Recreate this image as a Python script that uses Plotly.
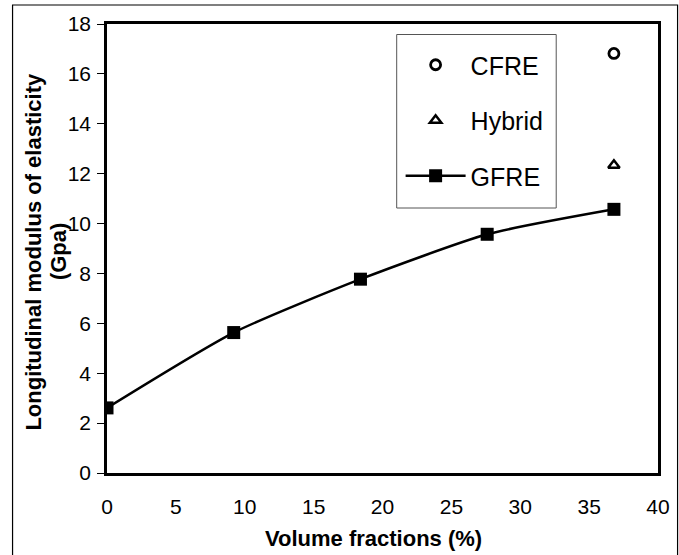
import plotly.graph_objects as go

volume = [0, 9.2, 18.4, 27.6, 36.8]
gfre = [2.61, 5.63, 7.77, 9.57, 10.57]
cfre_x = [36.8]
cfre_y = [16.82]
hybrid_x = [36.8]
hybrid_y = [12.34]

FONT = "Arial, Liberation Sans, sans-serif"

fig = go.Figure()
fig.add_trace(go.Scatter(x=cfre_x, y=cfre_y, mode="markers", name="CFRE",
                         legendgroup="a",
                         marker=dict(symbol="circle-open", size=10, color="black",
                                     line=dict(width=2.8, color="black"))))
fig.add_trace(go.Scatter(x=hybrid_x, y=hybrid_y, mode="markers", name="Hybrid",
                         legendgroup="b",
                         marker=dict(symbol="triangle-up-open", size=10, color="black",
                                     line=dict(width=2.5, color="black"))))
fig.add_trace(go.Scatter(x=volume, y=gfre, mode="lines+markers", name="GFRE",
                         legendgroup="c",
                         line=dict(color="black", width=2.5, shape="spline", smoothing=0.6),
                         marker=dict(symbol="square", size=13, color="black")))

L, R, T, B = 107, 9, 24, 82
W, H = 679, 555
pw, ph = W - L - R, H - T - B

def px(x):
    return (x - L) / pw

def py(y):
    return (H - B - y) / ph

fig.update_layout(
    width=W, height=H,
    margin=dict(l=L, r=R, t=T, b=B),
    paper_bgcolor="white", plot_bgcolor="white",
    font=dict(family=FONT, size=21, color="black"),
    showlegend=True,
    legend=dict(x=px(407), y=py(42), xanchor="left", yanchor="top",
                bgcolor="rgba(0,0,0,0)", borderwidth=0,
                font=dict(size=25, family=FONT), traceorder="grouped",
                tracegroupgap=20, itemwidth=60),
    xaxis=dict(range=[0, 40], tickvals=[0, 5, 10, 15, 20, 25, 30, 35, 40],
               showline=True, linecolor="black", linewidth=2.5, mirror=True,
               ticks="", showgrid=False, zeroline=False,
               ticklabelstandoff=13, tickfont=dict(size=21)),
    yaxis=dict(range=[0, 18], tickvals=[0, 2, 4, 6, 8, 10, 12, 14, 16, 18],
               showline=True, linecolor="black", linewidth=2.5, mirror=True,
               ticks="outside", ticklen=7, tickcolor="black", tickwidth=1,
               ticklabelstandoff=2,
               showgrid=False, zeroline=False, tickfont=dict(size=21)),
    shapes=[dict(type="rect", xref="paper", yref="paper",
                 x0=px(10.5), x1=px(690), y0=py(565), y1=py(5),
                 line=dict(color="black", width=1.2), layer="below"),
            dict(type="rect", xref="paper", yref="paper",
                 x0=px(403), x1=px(566), y0=py(208), y1=py(34.5),
                 fillcolor="white",
                 line=dict(color="#555555", width=1), layer="below")],
    annotations=[
        dict(text="<b>Volume fractions (%)</b>", xref="paper", yref="paper",
             x=px(379), y=py(538), xanchor="center", yanchor="middle",
             showarrow=False, font=dict(size=22, family=FONT)),
        dict(text="<b>Longitudinal modulus of elasticity</b>", xref="paper", yref="paper",
             x=px(31), y=py(252), xanchor="center", yanchor="middle", textangle=-90,
             showarrow=False, font=dict(size=22, family=FONT)),
        dict(text="<b>(Gpa)</b>", xref="paper", yref="paper",
             x=px(57), y=py(252), xanchor="center", yanchor="middle", textangle=-90,
             showarrow=False, font=dict(size=22, family=FONT)),
    ],
)

fig.write_html("out.html")
